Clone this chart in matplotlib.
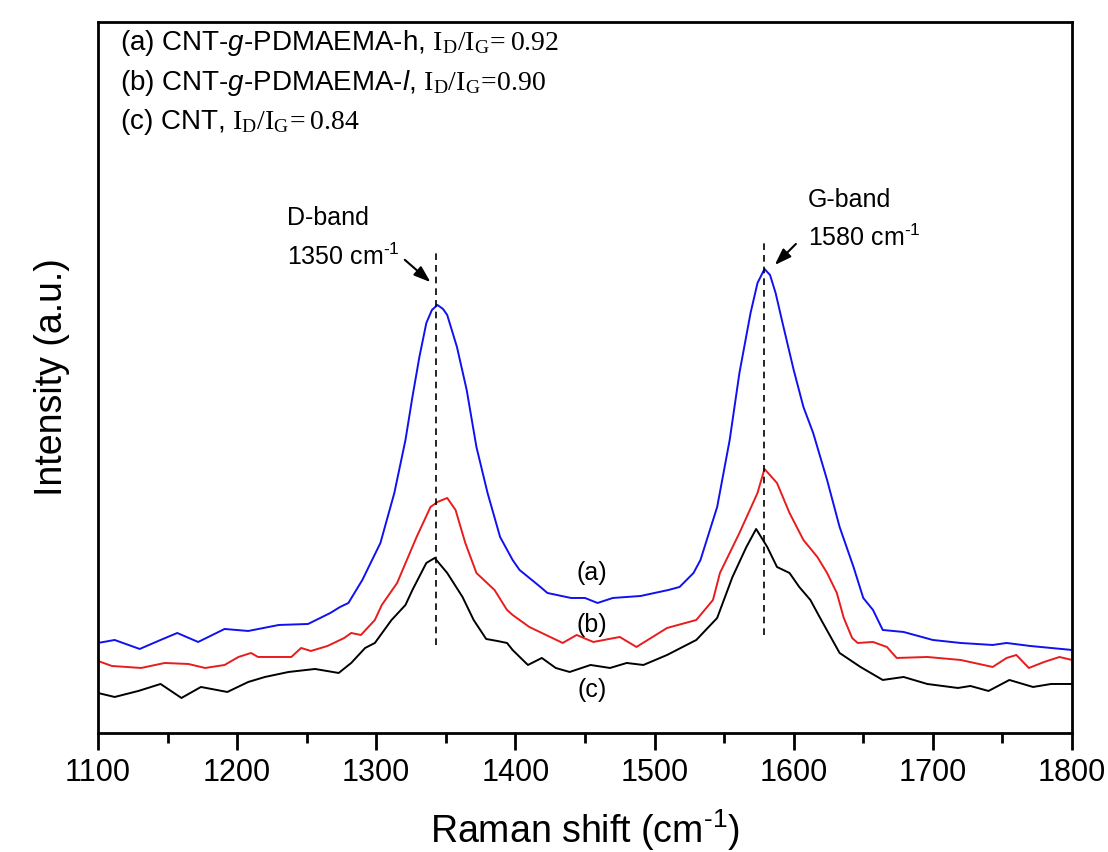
# Raman spectra of CNT and CNT-g-PDMAEMA samples

import numpy as np
import matplotlib
matplotlib.use("Agg")
import matplotlib.pyplot as plt
from matplotlib.ticker import MultipleLocator

plt.rcParams['font.family'] = ['Liberation Sans', 'DejaVu Sans']
plt.rcParams['mathtext.fontset'] = 'custom'
plt.rcParams['mathtext.rm'] = 'Liberation Serif'
plt.rcParams['mathtext.it'] = 'Liberation Sans:italic'
plt.rcParams['mathtext.sf'] = 'Liberation Sans'

# (a) CNT-g-PDMAEMA-h  (blue)
wn_a = [1100, 1112, 1130, 1145, 1157, 1172, 1191, 1208, 1230, 1251, 1267, 1274, 1280,
        1290, 1303, 1313, 1321, 1326, 1331, 1336, 1340, 1344, 1348, 1351, 1358, 1365,
        1372, 1380, 1389, 1398, 1403, 1418, 1423, 1440, 1450, 1459, 1470, 1490, 1510,
        1518, 1528, 1533, 1545, 1554, 1561, 1569, 1574, 1579, 1583, 1587, 1592, 1600, 1607,
        1614, 1624, 1633, 1643, 1650, 1657, 1664, 1679, 1700, 1720, 1743, 1753, 1770,
        1785, 1800]
int_a = [90, 93, 84, 93, 100, 91, 104, 102, 108, 109, 120, 126, 130,
         153, 190, 240, 293, 336, 376, 410, 423, 428, 424, 418, 386, 343,
         286, 240, 196, 173, 163, 146, 140, 135, 135, 130, 135, 137, 143,
         146, 160, 173, 226, 293, 360, 420, 450, 464, 458, 440, 410, 363, 326,
         300, 253, 206, 166, 135, 123, 103, 101, 93, 90, 88, 90, 87,
         85, 83]

# (b) CNT-g-PDMAEMA-l  (red)
wn_b = [1100, 1110, 1131, 1148, 1165, 1177, 1191, 1201, 1210, 1215, 1239, 1246, 1253,
        1265, 1277, 1282, 1289, 1299, 1304, 1315, 1329, 1339, 1344, 1351, 1357, 1364,
        1372, 1385, 1394, 1398, 1410, 1434, 1444, 1456, 1475, 1487, 1509, 1530, 1542,
        1547, 1561, 1574, 1579, 1588, 1597, 1607, 1617, 1624, 1631, 1636, 1642, 1646,
        1657, 1667, 1674, 1696, 1720, 1743, 1753, 1760, 1769, 1780, 1791, 1800]
int_b = [72, 67, 65, 70, 69, 65, 68, 76, 80, 76, 76, 85, 82,
         87, 95, 100, 98, 113, 128, 150, 196, 226, 231, 235, 223, 190,
         160, 143, 123, 118, 106, 90, 98, 91, 96, 86, 105, 113, 133,
         160, 200, 240, 264, 250, 220, 193, 176, 160, 140, 115, 95, 90,
         91, 86, 75, 76, 73, 66, 75, 78, 65, 71, 76, 73]

# (c) CNT  (black)
wn_c = [1100, 1112, 1129, 1145, 1160, 1174, 1193, 1208, 1220, 1237, 1256, 1273, 1282,
        1292, 1299, 1311, 1321, 1326, 1336, 1342, 1351, 1362, 1370, 1379, 1387, 1394,
        1398, 1409, 1419, 1429, 1439, 1454, 1468, 1480, 1492, 1509, 1530, 1545, 1556,
        1566, 1573, 1581, 1588, 1597, 1604, 1612, 1619, 1633, 1648, 1664, 1679, 1696,
        1718, 1727, 1740, 1755, 1772, 1785, 1800]
int_c = [40, 36, 42, 49, 35, 46, 41, 51, 56, 61, 64, 60, 70,
         85, 90, 113, 128, 143, 170, 175, 160, 136, 113, 94, 92, 90,
         83, 68, 75, 65, 61, 68, 65, 70, 68, 78, 93, 115, 156,
         186, 204, 186, 166, 160, 146, 133, 115, 80, 66, 53, 56, 49,
         45, 47, 42, 53, 46, 49, 49]

legend_lines = [r"(a) CNT-$\it{g}$-PDMAEMA-h, $\mathrm{I_D/I_G\!=0.92}$",
                r"(b) CNT-$\it{g}$-PDMAEMA-$\it{l}$, $\mathrm{I_D/I_G\!=\!0.90}$",
                r"(c) CNT, $\mathrm{I_D/I_G\!=0.84}$"]

inv_cm = r'cm$^{\mathsf{' + '\u2010' + '1}}$'

fig = plt.figure(figsize=(11.08, 8.52), dpi=100)
ax = fig.add_axes([0.0884, 0.1397, 0.8791, 0.8345])

ax.plot(wn_a, int_a, color='#1010f0', lw=1.4)
ax.plot(wn_b, int_b, color='#e81c1c', lw=1.4)
ax.plot(wn_c, int_c, color='black', lw=1.4)

# band positions
ax.plot([1343, 1343], [88, 483], color='black', lw=1.2, ls=(0, (4, 3)))
ax.plot([1579, 1579], [98, 493], color='black', lw=1.2, ls=(0, (4, 3)))

arrow = dict(arrowstyle='-|>,head_length=1.0,head_width=0.35', color='black', lw=1.5)
ax.annotate('', xy=(1340.5, 449), xytext=(1319, 475), arrowprops=arrow)
ax.annotate('', xy=(1585, 466), xytext=(1603, 491), arrowprops=arrow)
ax.text(1236, 515, 'D-band', fontsize=18, va='center')
ax.text(1236, 476, '1350 ' + inv_cm, fontsize=18, va='center')
ax.text(1610, 533, 'G-band', fontsize=18, va='center')
ax.text(1610, 495, '1580 ' + inv_cm, fontsize=18, va='center')

ax.text(1455, 160, '(a)', fontsize=18, ha='center', va='center')
ax.text(1455, 108, '(b)', fontsize=18, ha='center', va='center')
ax.text(1455, 43, '(c)', fontsize=18, ha='center', va='center')

for i, s in enumerate(legend_lines):
    ax.text(0.0226, [0.970, 0.914, 0.859][i], s, transform=ax.transAxes,
            fontsize=20, va='center')

ax.set_xlim(1100, 1800)
ax.set_ylim(0, 711)
ax.xaxis.set_major_locator(MultipleLocator(100))
ax.xaxis.set_minor_locator(MultipleLocator(50))
ax.set_yticks([])
ax.tick_params(axis='x', which='major', direction='out', length=12, width=2, labelsize=22, pad=6)
ax.tick_params(axis='x', which='minor', direction='out', length=7, width=2)
for sp in ax.spines.values():
    sp.set_linewidth(2)

ax.set_xlabel('Raman shift (' + inv_cm + ')', fontsize=27, labelpad=14)
ax.set_ylabel('Intensity (a.u.)', fontsize=27, labelpad=20)

fig.savefig('out.png', dpi=100)
